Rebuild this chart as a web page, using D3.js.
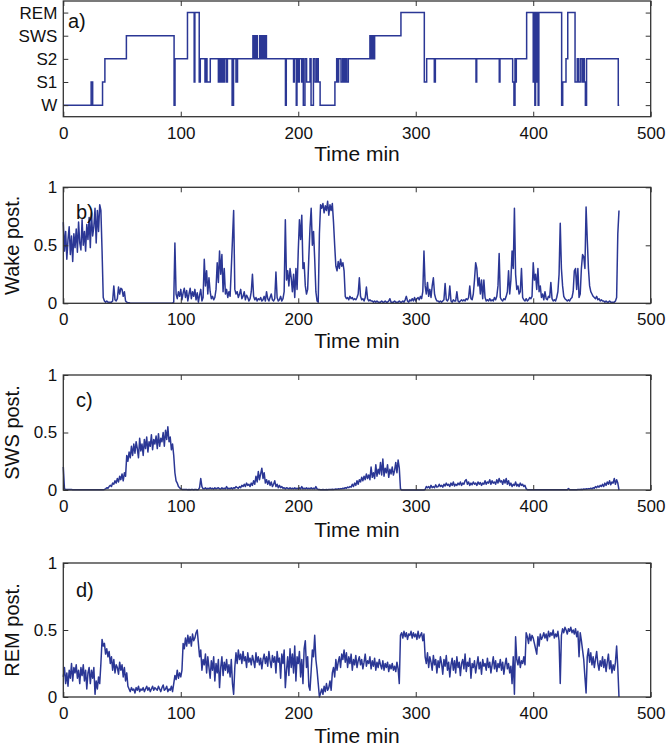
<!DOCTYPE html>
<html><head><meta charset="utf-8">
<script src="https://cdn.jsdelivr.net/npm/d3@7"></script>
<style>
body{margin:0;background:#fff}
svg{display:block}
text{font-family:"Liberation Sans",Arial,Helvetica,sans-serif;fill:#111}
</style>
</head><body><svg id="chart" width="666" height="755"></svg>
<script>
// ---------- data ----------
const stageLabels = ["W","S1","S2","SWS","REM"];   // codes 1..5
const stageTimes = [
  0, 23.7, 25.0, 33.4, 35.4, 53.7, 94.3, 95.1, 105.7, 111.4,
  112.0, 115.7, 116.6, 120.6, 121.4, 122.3, 125.1, 132.0, 132.6, 133.4,
  134.0, 134.9, 135.4, 136.3, 137.0, 138.6, 139.7, 143.7, 144.9, 147.0,
  148.3, 161.4, 162.0, 162.6, 163.4, 164.3, 165.1, 167.1, 167.7, 168.6,
  169.4, 170.3, 171.1, 172.0, 172.9, 189.1, 189.8, 196.0, 196.6, 198.3,
  198.9, 200.0, 200.9, 202.9, 203.4, 204.3, 205.7, 207.1, 210.0, 210.9,
  212.9, 214.3, 215.7, 217.0, 218.6, 231.2, 232.7, 233.3, 234.4, 236.4,
  237.8, 239.0, 240.1, 241.2, 242.6, 261.0, 262.2, 263.3, 263.9, 265.0,
  287.4, 307.3, 309.3, 315.8, 316.7, 351.3, 351.9, 371.1, 371.7, 382.5,
  383.6, 384.5, 385.0, 385.6, 394.4, 400.0, 400.6, 401.4, 402.0, 402.9,
  403.4, 404.2, 404.8, 424.2, 425.1, 427.9, 429.4, 435.6, 437.5, 438.4,
  440.0, 441.5, 442.4, 443.5, 444.4, 445.4, 472.4, 473.2
];
const stageCodes = [
  1,2,1,2,3,4,1,3,5,2,
  5,2,3,2,3,2,3,2,3,2,
  3,2,3,2,3,2,3,1,3,2,
  3,4,3,4,3,4,3,4,3,4,
  3,4,3,4,3,1,3,2,3,1,
  3,2,3,2,3,1,3,2,3,1,
  3,2,3,2,1,2,3,2,3,2,
  3,2,3,2,3,4,3,4,3,4,
  5,2,3,2,3,2,3,2,3,2,
  1,3,2,3,5,2,5,1,5,2,
  5,1,5,1,2,3,5,2,3,2,
  3,2,3,2,1,3,1,1
];

// posterior probabilities, one value per minute (t = 0 .. 473)
const wakePost = [
  0.70,0.45,0.62,0.38,0.55,0.66,0.42,0.58,0.36,0.60,
  0.48,0.64,0.44,0.70,0.52,0.46,0.72,0.50,0.62,0.45,
  0.68,0.55,0.74,0.48,0.78,0.58,0.66,0.82,0.52,0.80,
  0.62,0.85,0.80,0.45,0.05,0.02,0.01,0.02,0.01,0.01,
  0.01,0.01,0.02,0.15,0.03,0.02,0.04,0.14,0.08,0.13,
  0.12,0.06,0.10,0.02,0.01,0.005,0.005,0,0,0,
  0,0,0,0,0,0,0,0,0,0,
  0,0,0,0,0,0,0,0,0,0,
  0,0,0,0,0,0,0,0,0,0,
  0,0,0,0,0.01,0.52,0.08,0.04,0.10,0.06,
  0.12,0.03,0.09,0.13,0.05,0.11,0.02,0.08,0.13,0.04,
  0.10,0.06,0.12,0.03,0.09,0.01,0.07,0.12,0.02,0.05,
  0.38,0.15,0.28,0.08,0.22,0.10,0.04,0.06,0.03,0.05,
  0.12,0.35,0.18,0.45,0.25,0.42,0.10,0.30,0.08,0.12,
  0.05,0.10,0.06,0.30,0.55,0.80,0.12,0.08,0.10,0.05,
  0.08,0.12,0.04,0.06,0.10,0.03,0.07,0.05,0.02,0.04,
  0.10,0.25,0.06,0.03,0.05,0.02,0.04,0.03,0.05,0.02,
  0.03,0.06,0.02,0.10,0.04,0.02,0.05,0.08,0.03,0.02,
  0.04,0.27,0.05,0.02,0.03,0.06,0.02,0.04,0.10,0.72,
  0.20,0.28,0.15,0.30,0.22,0.10,0.25,0.05,0.30,0.12,
  0.45,0.72,0.55,0.76,0.30,0.35,0.15,0.08,0.12,0.40,
  0.65,0.82,0.50,0.62,0.38,0.10,0.02,0.01,0.60,0.85,
  0.82,0.86,0.78,0.84,0.80,0.88,0.76,0.85,0.80,0.86,
  0.70,0.50,0.32,0.28,0.36,0.30,0.38,0.32,0.35,0.28,
  0.06,0.04,0.05,0.03,0.06,0.04,0.05,0.03,0.04,0.03,
  0.05,0.08,0.22,0.06,0.03,0.04,0.02,0.05,0.14,0.04,
  0.02,0.03,0.02,0.02,0.01,0.02,0.01,0.02,0.01,0.01,
  0.01,0.02,0.01,0.01,0.02,0.01,0.01,0.02,0.04,0.01,
  0.01,0.01,0.02,0.01,0.01,0.01,0.02,0.01,0.01,0.02,
  0.01,0.03,0.06,0.02,0.01,0.03,0.02,0.04,0.02,0.05,
  0.02,0.04,0.05,0.03,0.06,0.04,0.10,0.45,0.15,0.08,
  0.18,0.06,0.12,0.05,0.15,0.22,0.08,0.04,0.02,0.02,
  0.01,0.02,0.01,0.02,0.03,0.17,0.03,0.02,0.04,0.15,
  0.02,0.01,0.03,0.02,0.02,0.10,0.02,0.01,0.02,0.03,
  0.02,0.03,0.02,0.04,0.03,0.05,0.15,0.04,0.03,0.08,
  0.20,0.35,0.30,0.15,0.22,0.08,0.20,0.04,0.20,0.05,
  0.02,0.03,0.02,0.04,0.02,0.03,0.02,0.05,0.03,0.06,
  0.15,0.43,0.05,0.03,0.02,0.04,0.03,0.06,0.10,0.28,
  0.08,0.20,0.45,0.30,0.82,0.25,0.12,0.15,0.08,0.10,
  0.30,0.05,0.03,0.02,0.04,0.02,0.03,0.05,0.04,0.06,
  0.35,0.20,0.25,0.12,0.30,0.10,0.15,0.05,0.08,0.03,
  0.10,0.04,0.03,0.06,0.05,0.18,0.04,0.02,0.03,0.02,
  0.05,0.10,0.25,0.69,0.30,0.15,0.06,0.04,0.03,0.02,
  0.03,0.02,0.04,0.05,0.10,0.28,0.30,0.12,0.30,0.05,
  0.08,0.30,0.42,0.40,0.30,0.83,0.55,0.30,0.15,0.10,
  0.08,0.06,0.05,0.04,0.06,0.03,0.04,0.02,0.03,0.02,
  0.02,0.01,0.02,0.01,0.01,0.02,0.01,0.01,0.01,0.01,
  0.02,0.05,0.60,0.80
];
const swsPost = [
  0.20,0.01,0.005,0.005,0.005,0.005,0.004,0.004,0.003,0.003,
  0.003,0.003,0.003,0.003,0.003,0.003,0.003,0.003,0.003,0.003,
  0.002,0.002,0.002,0.002,0.002,0.002,0.002,0.002,0.002,0.002,
  0.002,0.002,0.002,0.002,0.003,0.005,0.01,0.02,0.015,0.03,
  0.04,0.03,0.06,0.05,0.08,0.06,0.10,0.07,0.12,0.09,
  0.14,0.08,0.15,0.12,0.30,0.25,0.33,0.28,0.38,0.30,
  0.40,0.32,0.42,0.36,0.28,0.45,0.34,0.40,0.30,0.44,
  0.36,0.46,0.33,0.42,0.38,0.48,0.35,0.44,0.40,0.47,
  0.36,0.49,0.38,0.45,0.42,0.50,0.38,0.52,0.44,0.55,
  0.42,0.46,0.35,0.40,0.30,0.15,0.08,0.06,0.03,0.02,
  0.01,0.005,0.005,0.004,0.004,0.005,0.003,0.004,0.003,0.004,
  0.004,0.003,0.005,0.004,0.003,0.004,0.02,0.10,0.03,0.01,
  0.01,0.02,0.008,0.015,0.01,0.02,0.01,0.015,0.008,0.02,
  0.01,0.015,0.02,0.01,0.008,0.02,0.01,0.015,0.01,0.03,
  0.01,0.015,0.01,0.02,0.01,0.02,0.015,0.03,0.02,0.015,
  0.03,0.02,0.04,0.03,0.05,0.03,0.06,0.04,0.05,0.03,
  0.06,0.04,0.08,0.05,0.12,0.07,0.16,0.09,0.14,0.19,
  0.10,0.15,0.06,0.09,0.05,0.08,0.04,0.07,0.03,0.05,
  0.08,0.03,0.05,0.02,0.04,0.02,0.03,0.015,0.02,0.01,
  0.02,0.015,0.01,0.02,0.01,0.015,0.01,0.02,0.01,0.015,
  0.01,0.02,0.01,0.03,0.01,0.015,0.01,0.02,0.01,0.015,
  0.01,0.02,0.01,0.015,0.01,0.03,0.01,0.005,0.004,0.003,
  0.003,0.004,0.003,0.003,0.004,0.003,0.005,0.004,0.005,0.006,
  0.005,0.006,0.008,0.007,0.01,0.008,0.012,0.01,0.015,0.012,
  0.02,0.015,0.025,0.02,0.03,0.025,0.05,0.03,0.06,0.04,
  0.08,0.05,0.09,0.07,0.11,0.08,0.12,0.09,0.14,0.10,
  0.13,0.09,0.20,0.11,0.15,0.10,0.22,0.12,0.18,0.14,
  0.24,0.13,0.27,0.12,0.19,0.15,0.22,0.11,0.18,0.14,
  0.20,0.13,0.17,0.24,0.15,0.26,0.19,0.01,0,0,
  0,0,0,0,0,0,0,0,0,0,
  0,0,0,0,0,0,0,0,0.005,0.03,
  0.02,0.03,0.015,0.04,0.02,0.03,0.02,0.045,0.025,0.03,
  0.05,0.03,0.04,0.025,0.05,0.035,0.06,0.04,0.05,0.03,
  0.06,0.04,0.07,0.035,0.05,0.04,0.06,0.045,0.07,0.04,
  0.06,0.05,0.08,0.09,0.05,0.07,0.04,0.06,0.045,0.07,
  0.05,0.06,0.04,0.07,0.05,0.065,0.04,0.06,0.05,0.08,
  0.05,0.07,0.06,0.09,0.05,0.08,0.06,0.07,0.05,0.09,
  0.06,0.10,0.07,0.08,0.05,0.09,0.06,0.10,0.05,0.08,
  0.04,0.06,0.03,0.05,0.04,0.07,0.035,0.05,0.03,0.06,
  0.04,0.05,0.03,0.04,0.01,0.003,0.002,0.002,0.002,0.002,
  0.002,0.003,0.002,0.003,0.002,0.002,0.003,0.002,0.002,0.003,
  0.002,0.002,0.003,0.002,0.002,0.003,0.002,0.002,0.002,0.003,
  0.002,0.002,0.002,0.003,0.002,0.002,0.003,0.002,0.002,0.002,
  0.012,0.003,0.002,0.002,0.003,0.002,0.002,0.003,0.005,0.004,
  0.005,0.006,0.005,0.008,0.006,0.01,0.008,0.012,0.01,0.015,
  0.01,0.02,0.015,0.03,0.02,0.035,0.025,0.04,0.03,0.05,
  0.03,0.06,0.04,0.07,0.05,0.08,0.045,0.07,0.06,0.10,
  0.05,0.09,0.06,0
];
const remPost = [
  0.15,0.22,0.10,0.18,0.08,0.20,0.14,0.25,0.12,0.22,
  0.18,0.24,0.14,0.20,0.10,0.22,0.16,0.24,0.12,0.20,
  0.06,0.18,0.22,0.10,0.20,0.14,0.22,0.02,0.12,0.06,
  0.15,0.10,0.25,0.43,0.38,0.40,0.32,0.36,0.30,0.34,
  0.25,0.30,0.20,0.28,0.18,0.24,0.22,0.17,0.26,0.20,
  0.24,0.15,0.22,0.12,0.18,0.08,0.06,0.04,0.07,0.05,
  0.06,0.03,0.07,0.05,0.08,0.04,0.06,0.05,0.07,0.04,
  0.06,0.08,0.05,0.07,0.04,0.06,0.08,0.05,0.07,0.06,
  0.05,0.08,0.06,0.04,0.07,0.09,0.05,0.06,0.08,0.04,
  0.06,0.05,0.08,0.04,0.10,0.16,0.13,0.20,0.14,0.18,
  0.15,0.20,0.40,0.36,0.44,0.38,0.46,0.40,0.45,0.38,
  0.47,0.42,0.44,0.48,0.50,0.40,0.30,0.35,0.20,0.28,
  0.24,0.32,0.18,0.30,0.22,0.14,0.27,0.20,0.30,0.12,
  0.25,0.18,0.28,0.07,0.22,0.30,0.16,0.26,0.20,0.28,
  0.18,0.24,0.15,0.28,0.10,0.02,0.22,0.33,0.25,0.35,
  0.28,0.32,0.25,0.34,0.27,0.30,0.22,0.33,0.26,0.29,
  0.24,0.31,0.27,0.22,0.33,0.26,0.30,0.24,0.29,0.21,
  0.28,0.32,0.25,0.30,0.23,0.34,0.27,0.22,0.31,0.26,
  0.30,0.18,0.34,0.26,0.29,0.14,0.32,0.25,0.35,0.07,
  0.20,0.30,0.16,0.36,0.22,0.32,0.18,0.38,0.12,0.30,
  0.25,0.34,0.15,0.28,0.10,0.36,0.42,0.22,0.30,0.08,
  0.05,0.20,0.35,0.30,0.46,0.28,0.20,0.10,0.00,0.03,
  0.06,0.02,0.08,0.04,0.10,0.05,0.07,0.12,0.05,0.18,
  0.22,0.15,0.28,0.20,0.26,0.30,0.22,0.32,0.28,0.35,
  0.26,0.33,0.22,0.30,0.25,0.32,0.20,0.28,0.24,0.31,
  0.22,0.27,0.30,0.24,0.28,0.21,0.26,0.32,0.23,0.27,
  0.25,0.30,0.21,0.27,0.23,0.29,0.20,0.26,0.22,0.28,
  0.24,0.21,0.27,0.20,0.25,0.22,0.26,0.19,0.24,0.21,
  0.25,0.20,0.23,0.19,0.26,0.21,0.10,0.46,0.48,0.44,
  0.49,0.45,0.48,0.43,0.47,0.46,0.49,0.44,0.48,0.45,
  0.47,0.43,0.49,0.44,0.46,0.48,0.42,0.47,0.30,0.25,
  0.33,0.22,0.30,0.26,0.20,0.31,0.24,0.28,0.18,0.27,
  0.22,0.30,0.25,0.17,0.28,0.23,0.31,0.20,0.26,0.15,
  0.24,0.29,0.20,0.27,0.18,0.30,0.22,0.26,0.16,0.25,
  0.28,0.21,0.32,0.19,0.26,0.23,0.29,0.14,0.25,0.22,
  0.27,0.18,0.24,0.30,0.21,0.26,0.17,0.28,0.23,0.25,
  0.20,0.29,0.22,0.26,0.18,0.24,0.30,0.21,0.27,0.19,
  0.25,0.22,0.28,0.20,0.26,0.17,0.24,0.29,0.21,0.25,
  0.18,0.23,0.10,0.30,0.02,0.45,0.28,0.24,0.30,0.22,
  0.27,0.25,0.30,0.24,0.48,0.45,0.40,0.47,0.42,0.46,
  0.44,0.40,0.36,0.32,0.45,0.38,0.47,0.43,0.45,0.48,
  0.44,0.47,0.42,0.49,0.45,0.48,0.46,0.50,0.44,0.47,
  0.45,0.49,0.42,0.10,0.46,0.51,0.48,0.52,0.50,0.47,
  0.51,0.49,0.52,0.48,0.50,0.47,0.51,0.45,0.49,0.30,
  0.48,0.42,0.35,0.28,0.15,0.03,0.30,0.36,0.26,0.33,
  0.24,0.30,0.22,0.28,0.34,0.25,0.20,0.27,0.23,0.30,
  0.22,0.28,0.19,0.26,0.32,0.21,0.27,0.18,0.24,0.20,
  0.26,0.38,0.22,0.00
];
const timeTicks = [0,100,200,300,400,500];
const probTicks = [0,0.5,1];
const panelTags = ["a)","b)","c)","d)"];
const yLabels = ["","Wake post.","SWS post.","REM post."];
const xLabel = "Time min";

// ---------- drawing ----------
const svg = d3.select("#chart");
const lineColor = "#2b3795";
const axisColor = "#333";
const x = d3.scaleLinear().domain([0,500]).range([63.3,650.7]);
const minutes = d3.range(wakePost.length);

const layout = [
  {top:1,     bottom:116.7, tagY:28,  titleY:161},
  {top:187.3, bottom:303.3, tagY:219, titleY:348},
  {top:375,   bottom:490,   tagY:407, titleY:537},
  {top:563,   bottom:697,   tagY:597, titleY:743}
];

function drawFrame(g, y, yTickVals, yFmt, L){
  g.append("g").attr("transform",`translate(0,${L.bottom})`)
    .call(d3.axisBottom(x).tickValues(timeTicks).tickSize(-5).tickPadding(10).tickFormat(d3.format("d")))
    .call(s=>{s.select(".domain").remove(); s.selectAll("text").attr("font-size",17).style("fill","#111");});
  g.append("g").attr("transform",`translate(0,${L.top})`)
    .call(d3.axisTop(x).tickValues(timeTicks).tickSize(-5).tickFormat(""))
    .call(s=>s.select(".domain").remove());
  g.append("g").attr("transform",`translate(${x.range()[0]},0)`)
    .call(d3.axisLeft(y).tickValues(yTickVals).tickSize(-5).tickPadding(6).tickFormat(yFmt))
    .call(s=>{s.select(".domain").remove(); s.selectAll("text").attr("font-size",17).style("fill","#111");});
  g.append("g").attr("transform",`translate(${x.range()[1]},0)`)
    .call(d3.axisRight(y).tickValues(yTickVals).tickSize(-5).tickFormat(""))
    .call(s=>s.select(".domain").remove());
  g.selectAll(".tick line").attr("stroke",axisColor).attr("stroke-width",1);
  g.append("rect")
    .attr("x",x.range()[0]).attr("y",L.top)
    .attr("width",x.range()[1]-x.range()[0]).attr("height",L.bottom-L.top)
    .attr("fill","none").attr("stroke",axisColor).attr("stroke-width",1.3);
  g.append("text").attr("x",(x.range()[0]+x.range()[1])/2).attr("y",L.titleY)
    .attr("text-anchor","middle").attr("font-size",21).text(xLabel);
}

// panel a: hypnogram
{
  const L = layout[0];
  const g = svg.append("g");
  const y = d3.scaleLinear().domain([0.5,5.5]).range([L.bottom,L.top]);
  const line = d3.line().curve(d3.curveStepAfter).x((d,i)=>x(stageTimes[i])).y(d=>y(d));
  g.append("path").datum(stageCodes).attr("d",line)
    .attr("fill","none").attr("stroke",lineColor).attr("stroke-width",1.5);
  drawFrame(g, y, [1,2,3,4,5], d=>stageLabels[d-1], L);
  g.append("text").attr("x",68).attr("y",L.tagY).attr("font-size",20).text(panelTags[0]);
}

// panels b-d: posterior probabilities
const series = [wakePost, swsPost, remPost];
series.forEach((vals,k)=>{
  const L = layout[k+1];
  const g = svg.append("g");
  const y = d3.scaleLinear().domain([0,1]).range([L.bottom,L.top]);
  const line = d3.line().x((d,i)=>x(minutes[i])).y(d=>y(d));
  g.append("path").datum(vals).attr("d",line)
    .attr("fill","none").attr("stroke",lineColor).attr("stroke-width",1.5).attr("stroke-linejoin","round");
  drawFrame(g, y, probTicks, d=>d===0.5?"0.5":String(d), L);
  g.append("text").attr("x",76).attr("y",L.tagY).attr("font-size",20).text(panelTags[k+1]);
  g.append("text").attr("transform",`translate(19,${(L.top+L.bottom)/2}) rotate(-90)`)
    .attr("text-anchor","middle").attr("font-size",20).text(yLabels[k+1]);
});
</script>
</body></html>
